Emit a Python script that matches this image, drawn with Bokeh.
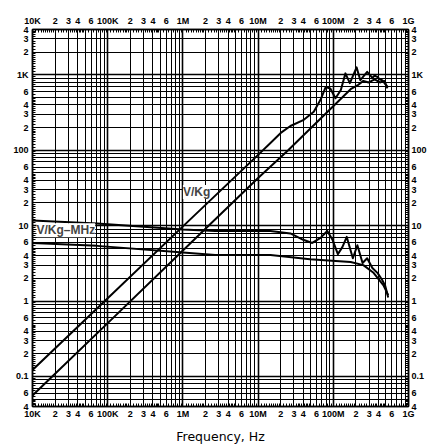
from bokeh.plotting import figure
from bokeh.models import FixedTicker, LogAxis, Label, CustomJSTickFormatter
from bokeh.embed import file_html
from bokeh.resources import INLINE

# ---------------- data ----------------
# V/Kg, upper curve
freq_vkg_a = [1e4, 1e5, 1e6, 1e7, 1.46e7, 2e7, 2.69e7, 3.98e7, 5.5e7, 6.76e7, 7.94e7, 9.12e7,
              1.07e8, 1.26e8, 1.45e8, 1.66e8, 2.04e8, 2.29e8, 2.82e8, 3.31e8, 3.55e8,
              3.89e8, 4.17e8, 4.47e8, 5.25e8]
vkg_a = [0.122, 1.09, 9.8, 87, 125, 170, 210, 251, 324, 468, 692, 661,
         490, 631, 1047, 776, 1259, 851, 1096, 912, 980,
         933, 870, 851, 692]

# V/Kg, lower curve
freq_vkg_b = [1e4, 1e5, 1e6, 1e7, 2.51e7, 1.70e8, 2.09e8, 2.51e8, 2.95e8, 3.55e8,
              4.17e8, 4.79e8, 5.25e8]
vkg_b = [0.056, 0.51, 4.7, 43, 100, 646, 724, 832, 794, 871,
         794, 832, 661]

# V/Kg-MHz, upper curve
freq_gbw_a = [1e4, 7.24e4, 1e6, 2.69e6, 1.46e7, 2.69e7, 3.98e7, 5.25e7, 6.76e7, 8.32e7,
              9.77e7, 1.15e8, 1.32e8, 1.51e8, 1.82e8, 2.09e8, 2.45e8, 2.82e8, 3.31e8,
              3.89e8, 4.47e8, 4.9e8, 5.37e8]
gbw_a = [11.7, 10.7, 8.9, 8.5, 8.5, 7.9, 6.5, 5.9, 6.9, 8.5,
         6.5, 4.2, 5.2, 7.1, 3.7, 5.5, 3.2, 3.7, 2.75,
         2.35, 1.9, 1.6, 1.12]

# V/Kg-MHz, lower curve
freq_gbw_b = [1e4, 7.24e4, 1e6, 2.69e6, 1.46e7, 4.9e7, 1.70e8, 2.51e8, 3.39e8, 4.68e8, 5.37e8]
gbw_b = [5.9, 5.4, 4.4, 4.1, 4.1, 3.6, 3.3, 3.0, 2.4, 1.6, 1.2]

# tick labels
x_tick_vals = [1e4, 2e4, 3e4, 4e4, 6e4, 1e5, 2e5, 3e5, 4e5, 6e5, 1e6, 2e6, 3e6, 4e6, 6e6,
               1e7, 2e7, 3e7, 4e7, 6e7, 1e8, 2e8, 3e8, 4e8, 6e8, 1e9]
x_tick_labels = ["10K", "2", "3", "4", "6", "100K", "2", "3", "4", "6", "1M", "2", "3", "4", "6",
                 "10M", "2", "3", "4", "6", "100M", "2", "3", "4", "6", "1G"]
y_tick_vals = [0.04, 0.06, 0.1, 0.2, 0.3, 0.4, 0.6, 1, 2, 3, 4, 6, 10, 20, 30, 40, 60,
               100, 200, 300, 400, 600, 1000, 2000, 3000, 4000]
y_tick_labels = ["4", "6", "0.1", "2", "3", "4", "6", "1", "2", "3", "4", "6", "10", "2", "3", "4", "6",
                 "100", "2", "3", "4", "6", "1K", "2", "3", "4"]

X_RANGE = (1e4, 1e9)
Y_RANGE = (0.04, 4000)

# grid / fine tick positions
mults = [1, 2, 3, 4, 5, 6, 7, 8, 9]
fine_mults = [1.1, 1.2, 1.3, 1.4, 1.5, 1.6, 1.7, 1.8, 1.9, 2.2, 2.4, 2.6, 2.8, 3.2, 3.4, 3.6, 3.8,
              4.2, 4.4, 4.6, 4.8, 5, 5.5, 6, 6.5, 7, 7.5, 8, 8.5, 9, 9.5]


def in_rng(v, r):
    return r[0] * 0.9999 <= v <= r[1] * 1.0001


x_dec = [10.0 ** k for k in range(4, 10)]
x_minor_grid = [m * 10.0 ** k for k in range(4, 9) for m in mults[1:]]
x_fine = [m * 10.0 ** k for k in range(4, 9) for m in fine_mults]
y_dec = [10.0 ** k for k in range(-1, 4)]
y_minor_grid = [v for v in (m * 10.0 ** k for k in range(-2, 4) for m in mults[1:]) if in_rng(v, Y_RANGE)]
y_fine = [v for v in (m * 10.0 ** k for k in range(-2, 4) for m in fine_mults) if in_rng(v, Y_RANGE)]

FONT = "Liberation Sans"

p = figure(x_axis_type="log", y_axis_type="log", x_range=X_RANGE, y_range=Y_RANGE,
           frame_width=376, frame_height=377,
           min_border_left=32, min_border_right=22, min_border_top=29, min_border_bottom=40,
           output_backend="svg", toolbar_location=None,
           background_fill_color="white", border_fill_color="white")

p.outline_line_color = "black"
p.outline_line_width = 1.5

fmt_code = """
for (let i = 0; i < vals.length; i++) {
  if (Math.abs(Math.log10(vals[i]) - Math.log10(tick)) < 1e-6) return labs[i];
}
return "";
"""


def style_axis(ax, vals, labs, fine, standoff):
    ax.ticker = FixedTicker(ticks=vals, minor_ticks=fine)
    ax.formatter = CustomJSTickFormatter(args=dict(vals=vals, labs=labs), code=fmt_code)
    ax.major_label_text_font = FONT
    ax.major_label_text_font_style = "bold"
    ax.major_label_text_font_size = "9px"
    ax.major_label_text_color = "black"
    ax.major_tick_in = 4
    ax.major_tick_out = 0
    ax.minor_tick_in = 3
    ax.minor_tick_out = 0
    ax.major_tick_line_color = "black"
    ax.minor_tick_line_color = "black"
    ax.major_label_standoff = standoff
    ax.axis_line_color = "black"
    ax.axis_line_width = 1.5


bottom_axis = p.below[0]
left_axis = p.left[0]
top_axis = LogAxis()
right_axis = LogAxis()
p.add_layout(top_axis, "above")
p.add_layout(right_axis, "right")

style_axis(bottom_axis, x_tick_vals, x_tick_labels, x_fine, 2)
style_axis(top_axis, x_tick_vals, x_tick_labels, x_fine, 4)
style_axis(left_axis, y_tick_vals, y_tick_labels, y_fine, 4)
style_axis(right_axis, y_tick_vals, y_tick_labels, y_fine, 3)

bottom_axis.axis_label = "Frequency, Hz"
bottom_axis.axis_label_text_font = "DejaVu Sans"
bottom_axis.axis_label_text_font_style = "normal"
bottom_axis.axis_label_text_font_size = "12.5px"
bottom_axis.axis_label_text_color = "black"
bottom_axis.axis_label_standoff = 7

# grids
xg = p.xgrid[0]
xg.ticker = FixedTicker(ticks=x_dec, minor_ticks=x_minor_grid)
yg = p.ygrid[0]
yg.ticker = FixedTicker(ticks=y_dec, minor_ticks=y_minor_grid)
for g in (xg, yg):
    g.grid_line_color = "black"
    g.grid_line_width = 1.6
    g.grid_line_alpha = 1.0
    g.minor_grid_line_color = "black"
    g.minor_grid_line_width = 1.0

# curves
for fx, fy in ((freq_vkg_a, vkg_a), (freq_vkg_b, vkg_b), (freq_gbw_a, gbw_a), (freq_gbw_b, gbw_b)):
    p.line(fx, fy, line_color="black", line_width=2, line_join="round")

# curve labels
p.add_layout(Label(x=1.0e6, y=28, text="V/Kg", text_font=FONT, text_font_style="bold",
                   text_font_size="12px", text_align="left", text_baseline="middle",
                   background_fill_color="white"))
p.add_layout(Label(x=1.13e4, y=8.7, text="V/Kg\u2013MHz", text_font=FONT, text_font_style="bold",
                   text_font_size="12px", text_align="left", text_baseline="middle",
                   background_fill_color="white"))

open("out.html", "w").write(file_html(p, INLINE))
